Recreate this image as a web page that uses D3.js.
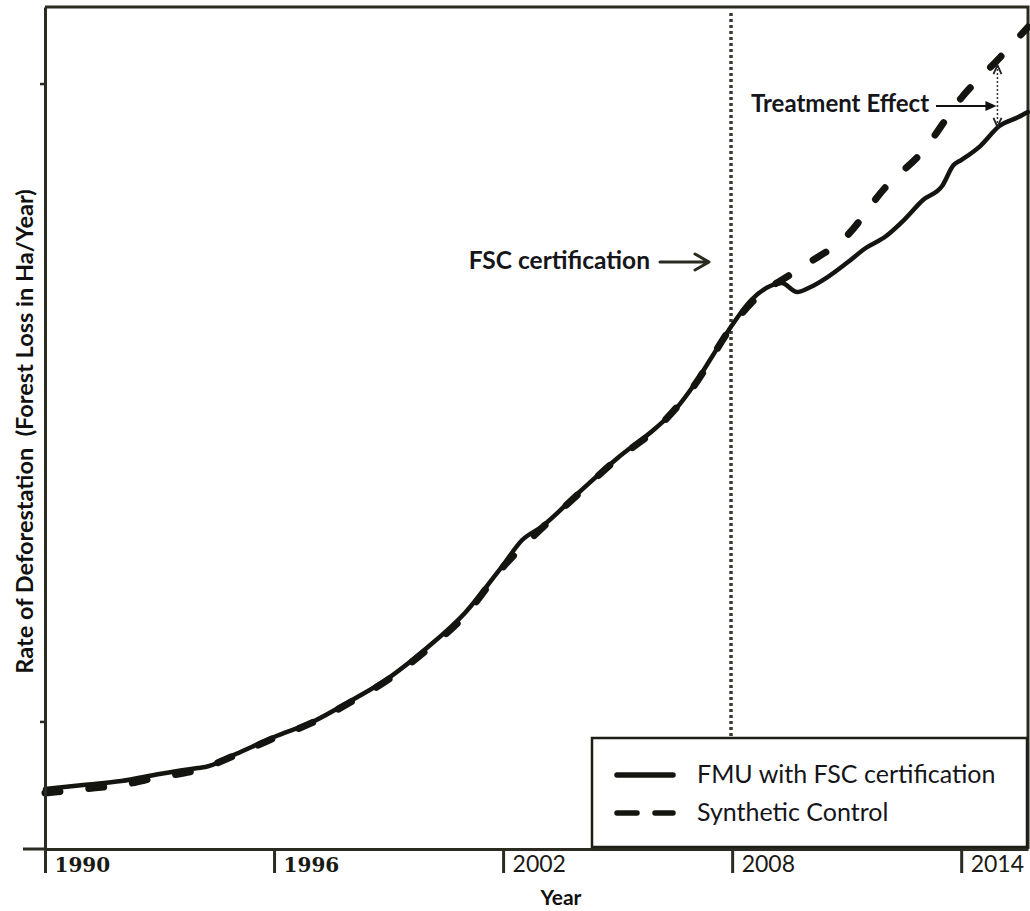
<!DOCTYPE html>
<html>
<head>
<meta charset="utf-8">
<script src="https://cdn.jsdelivr.net/npm/d3@7/dist/d3.min.js"></script>
<style>
  html, body { margin: 0; padding: 0; background: #fff; }
  svg { display: block; }
</style>
</head>
<body>
<svg id="chart" width="1030" height="911"></svg>
<script>
// ---------------- DATA ----------------
const fmuYears = [1990,1991,1992,1993,1994,1994.2,1995,1996,1997,1998,1999,2000,2001,2002,2002.5,2003,2004,2005,2006,2006.5,2007,2007.5,2008,2008.5,2009,2009.3,2009.7,2010,2010.5,2011,2011.5,2012,2012.5,2013,2013.5,2013.8,2014,2014.5,2015,2015.5,2015.75];
const fmuValues = [470,502,533,588,635,643,745,878,995,1160,1340,1575,1850,2226,2422,2524,2798,3065,3300,3441,3637,3872,4107,4303,4413,4436,4366,4397,4483,4593,4711,4797,4930,5087,5197,5361,5400,5510,5667,5737,5777];

const synthYears = [1990,1991,1992,1993,1994,1995,1996,1997,1998,1999,2000,2001,2002,2003,2004,2005,2006,2007,2008,2008.5,2009,2009.3,2010,2011,2012,2013,2014,2015,2015.75];
const synthValues = [439,470,502,564,619,737,870,990,1150,1330,1560,1830,2210,2510,2790,3060,3290,3630,4100,4280,4405,4460,4593,4805,5181,5471,5886,6200,6443];

const tickYears = [1990, 1996, 2002, 2008, 2014];
const yTickValues = [1000, 6000];

const certificationYear = 2007.97;
const effectYear = 2014.95;
const effectLow = 5660;
const effectHigh = 6145;

const seriesNames = ["FMU with FSC certification", "Synthetic Control"];
const yLabel = "Rate of Deforestation  (Forest Loss in Ha/Year)";
const xLabel = "Year";
const certLabel = "FSC certification";
const effectLabel = "Treatment Effect";

(function draw() {
const svg = d3.select("#chart");
const W = 1030, H = 911;
const pLeft = 45, pRight = 1028, pTop = 7, pBottom = 849;
const ink = "#141410";
const axisInk = "#2b2b22";
const sans = "Lato, 'Open Sans', sans-serif";

svg.append("rect").attr("width", W).attr("height", H).attr("fill", "#fff");

const x = d3.scaleLinear().domain([1990, 2015.75]).range([pLeft, pRight]);
const y = d3.scaleLinear().domain([0, 6600]).range([pBottom, pTop]);

// frame (top + right)
svg.append("path")
  .attr("d", `M${pLeft},${pTop}H${pRight}V${pBottom}`)
  .attr("fill", "none").attr("stroke", axisInk).attr("stroke-width", 3);

// certification dotted line
svg.append("line")
  .attr("x1", x(certificationYear)).attr("x2", x(certificationYear))
  .attr("y1", pTop + 6).attr("y2", pBottom)
  .attr("stroke", "#3a3a30").attr("stroke-width", 3.5)
  .attr("stroke-linecap", "butt").attr("stroke-dasharray", "3 3");

// lines
const line = d3.line().x(d => x(d[0])).y(d => y(d[1])).curve(d3.curveMonotoneX);
const synthData = synthYears.map((t, i) => [t, synthValues[i]]);
const fmuData = fmuYears.map((t, i) => [t, fmuValues[i]]);

svg.append("path").datum(synthData).attr("d", line)
  .attr("fill", "none").attr("stroke", ink).attr("stroke-width", 7)
  .attr("stroke-linecap", "round").attr("stroke-dasharray", "15 29");

svg.append("path").datum(fmuData).attr("d", line)
  .attr("fill", "none").attr("stroke", ink).attr("stroke-width", 4.5)
  .attr("stroke-linejoin", "round").attr("stroke-linecap", "round");

// y axis
const yAxis = svg.append("g").attr("transform", `translate(${pLeft},0)`)
  .call(d3.axisLeft(y).tickValues(yTickValues).tickSize(5).tickSizeOuter(0).tickFormat(""));
yAxis.select(".domain").attr("stroke", axisInk).attr("stroke-width", 3);
yAxis.selectAll(".tick line").attr("stroke", axisInk).attr("stroke-width", 2.5);

// x axis
const xAxis = svg.append("g").attr("transform", `translate(0,${pBottom})`)
  .call(d3.axisBottom(x).tickValues(tickYears).tickSize(24).tickSizeOuter(0).tickFormat(d3.format("d")));
xAxis.select(".domain").attr("stroke", axisInk).attr("stroke-width", 3);
xAxis.selectAll(".tick line").attr("stroke", axisInk).attr("stroke-width", 3);
xAxis.selectAll(".tick text")
  .attr("x", 9).attr("y", 23).attr("dy", 0)
  .attr("text-anchor", "start")
  .attr("fill", "#1a1a14")
  .style("font-family", d => d < 2000 ? "'DejaVu Serif', serif" : sans)
  .style("font-weight", d => d < 2000 ? 700 : 400)
  .style("font-size", d => d < 2000 ? "20px" : "23px");
svg.append("line").attr("x1", 23).attr("x2", pLeft).attr("y1", pBottom).attr("y2", pBottom)
  .attr("stroke", axisInk).attr("stroke-width", 3);

// axis labels
svg.append("text").text(yLabel)
  .attr("transform", `translate(33,${(185 + 678) / 2}) rotate(-90)`)
  .attr("text-anchor", "middle")
  .style("white-space", "pre")
  .style("font-family", sans).style("font-weight", 700).style("font-size", "23.5px")
  .attr("fill", "#111");

svg.append("text").text(xLabel)
  .attr("x", 561).attr("y", 905).attr("text-anchor", "middle")
  .style("font-family", sans).style("font-weight", 700).style("font-size", "21px")
  .attr("fill", "#111");

// FSC certification annotation
const cx = x(certificationYear);
svg.append("text").text(certLabel)
  .attr("x", 650).attr("y", 269).attr("text-anchor", "end")
  .style("font-family", sans).style("font-weight", 700).style("font-size", "24.5px")
  .attr("fill", "#15151a");
svg.append("path")
  .attr("d", `M${cx - 71},262H${cx - 22}M${cx - 36},254L${cx - 22},262L${cx - 36},270`)
  .attr("fill", "none").attr("stroke", "#2a2a20").attr("stroke-width", 3)
  .attr("stroke-linecap", "round").attr("stroke-linejoin", "round");

// Treatment effect annotation
const ex = x(effectYear);
const eyTop = y(effectHigh), eyBot = y(effectLow);
svg.append("line").attr("x1", ex).attr("x2", ex).attr("y1", eyTop + 4).attr("y2", eyBot - 4)
  .attr("stroke", "#333").attr("stroke-width", 1.5).attr("stroke-dasharray", "2 2");
svg.append("path")
  .attr("d", `M${ex - 4},${eyTop + 9}L${ex},${eyTop}L${ex + 4},${eyTop + 9}M${ex - 4},${eyBot - 9}L${ex},${eyBot}L${ex + 4},${eyBot - 9}`)
  .attr("fill", "none").attr("stroke", "#222").attr("stroke-width", 1.8);
const ay = 106;
svg.append("line").attr("x1", 936).attr("x2", ex - 10).attr("y1", ay).attr("y2", ay)
  .attr("stroke", "#111").attr("stroke-width", 2);
svg.append("path")
  .attr("d", `M${ex - 12},${ay - 5}L${ex - 1},${ay}L${ex - 12},${ay + 5}Z`)
  .attr("fill", "#111");
svg.append("text").text(effectLabel)
  .attr("x", 751).attr("y", 112).attr("text-anchor", "start")
  .style("font-family", sans).style("font-weight", 700).style("font-size", "24px")
  .attr("fill", "#15151a");

// legend
const lg = svg.append("g");
lg.append("rect").attr("x", 592).attr("y", 738).attr("width", 435).attr("height", 109)
  .attr("fill", "#fff").attr("stroke", "#1e1e18").attr("stroke-width", 2.5);
const legendRows = [
  { name: seriesNames[0], dash: null, yy: 775 },
  { name: seriesNames[1], dash: "20 18", yy: 813 }
];
legendRows.forEach(r => {
  lg.append("line").attr("x1", 617).attr("x2", 673).attr("y1", r.yy).attr("y2", r.yy)
    .attr("stroke", ink).attr("stroke-width", 5.5).attr("stroke-linecap", "round")
    .attr("stroke-dasharray", r.dash);
  lg.append("text").text(r.name)
    .attr("x", 697).attr("y", r.yy + 8)
    .style("font-family", sans).style("font-size", "25px")
    .attr("fill", "#15151a");
});
})();
</script>
</body>
</html>
